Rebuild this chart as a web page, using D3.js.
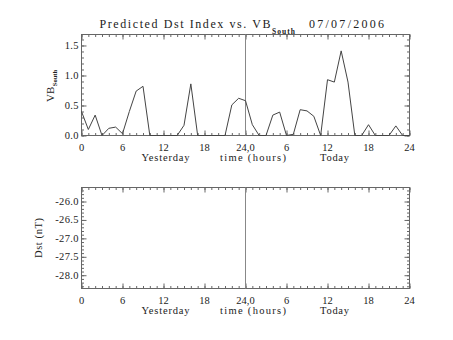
<!DOCTYPE html>
<html>
<head>
<meta charset="utf-8">
<script src="https://cdn.jsdelivr.net/npm/d3@7"></script>
<style>
  html, body { margin: 0; padding: 0; background: #fff; }
  svg { display: block; }
  text { fill: #222; font-family: "Liberation Serif", "DejaVu Serif", serif; }
</style>
</head>
<body>
<svg id="chart" width="453" height="340"></svg>
<script>
// Hourly VB-south values, yesterday 00h through today 24h
const hours = d3.range(0, 49);
const vbSouth = [
  0.40, 0.10, 0.34, 0.00, 0.12, 0.14, 0.03, 0.40, 0.74, 0.82,
  0.00, 0.00, 0.00, 0.00, 0.00, 0.17, 0.86, 0.00, 0.00, 0.00,
  0.00, 0.00, 0.51, 0.62, 0.58, 0.18, 0.00, 0.00, 0.34, 0.39,
  0.00, 0.02, 0.43, 0.41, 0.32, 0.00, 0.93, 0.89, 1.41, 0.89,
  0.00, 0.00, 0.18, 0.00, 0.00, 0.00, 0.16, 0.00, 0.00
];
// Predicted Dst has no values for this window
const dstValues = [];

const xTickValues = [0, 6, 12, 18, 24, 30, 36, 42, 48];
const xTickLabels = ["0", "6", "12", "18", "24,0", "6", "12", "18", "24"];
const vbTickValues = [0, 0.5, 1.0, 1.5];
const vbTickLabels = ["0.0", "0.5", "1.0", "1.5"];
const dstTickValues = [-26.0, -26.5, -27.0, -27.5, -28.0];
const dstTickLabels = ["-26.0", "-26.5", "-27.0", "-27.5", "-28.0"];

const svg = d3.select("#chart");
const frameColor = "#666";

const x = d3.scaleLinear().domain([0, 48]).range([81.5, 409.5]);

function panel(y0, y1, domain, yMajor, yLabels, yMinorStep) {
  const y = d3.scaleLinear().domain(domain).range([y1, y0]);
  const g = svg.append("g");
  const minorX = d3.range(0, 49, 1);
  const minorY = d3.range(Math.ceil(domain[0] / yMinorStep) * yMinorStep, domain[1], yMinorStep);

  // inward-pointing ticks on all four sides
  const axes = [
    [d3.axisBottom(x).tickValues(minorX).tickSize(-2.5), `translate(0,${y1})`],
    [d3.axisBottom(x).tickValues(xTickValues).tickSize(-5), `translate(0,${y1})`],
    [d3.axisTop(x).tickValues(minorX).tickSize(-2.5), `translate(0,${y0})`],
    [d3.axisTop(x).tickValues(xTickValues).tickSize(-5), `translate(0,${y0})`],
    [d3.axisLeft(y).tickValues(minorY).tickSize(-2.5), `translate(81.5,0)`],
    [d3.axisLeft(y).tickValues(yMajor).tickSize(-5), `translate(81.5,0)`],
    [d3.axisRight(y).tickValues(minorY).tickSize(-2.5), `translate(409.5,0)`],
    [d3.axisRight(y).tickValues(yMajor).tickSize(-5), `translate(409.5,0)`]
  ];
  axes.forEach(([ax, tr]) => {
    const a = g.append("g").attr("transform", tr).call(ax.tickFormat(""));
    a.select(".domain").remove();
    a.selectAll("line").attr("stroke", frameColor);
  });

  g.append("rect")
    .attr("x", 81.5).attr("y", y0)
    .attr("width", 328).attr("height", y1 - y0)
    .attr("fill", "none").attr("stroke", frameColor).attr("stroke-width", 1);

  // day boundary
  g.append("line")
    .attr("x1", x(24)).attr("x2", x(24))
    .attr("y1", y0).attr("y2", y1)
    .attr("stroke", "#888").attr("stroke-width", 1);

  // x tick labels
  g.selectAll(".xl").data(xTickValues).enter().append("text")
    .attr("x", d => x(d)).attr("y", y1 + 15)
    .attr("text-anchor", "middle").attr("font-size", 10.5)
    .text((d, i) => xTickLabels[i]);

  // y tick labels
  g.selectAll(".yl").data(yMajor).enter().append("text")
    .attr("x", 79).attr("y", d => y(d) + 3.5)
    .attr("text-anchor", "end").attr("font-size", 10.5)
    .attr("letter-spacing", 0.4)
    .text((d, i) => yLabels[i]);

  // x axis titles
  const ty = y1 + 25;
  g.append("text").attr("x", 141.5).attr("y", ty).attr("font-size", 10.5)
    .attr("textLength", 48).attr("lengthAdjust", "spacing").text("Yesterday");
  g.append("text").attr("x", 220).attr("y", ty).attr("font-size", 10.5)
    .attr("textLength", 66).attr("lengthAdjust", "spacing").text("time (hours)");
  g.append("text").attr("x", 320).attr("y", ty).attr("font-size", 10.5)
    .attr("textLength", 29).attr("lengthAdjust", "spacing").text("Today");

  return { g, y };
}

// Title
svg.append("text").attr("x", 99.5).attr("y", 28).attr("font-size", 12)
  .attr("textLength", 171).attr("lengthAdjust", "spacing")
  .text("Predicted Dst Index vs. VB");
svg.append("text").attr("x", 272).attr("y", 33.5).attr("font-size", 7.5)
  .attr("font-weight", "bold")
  .attr("textLength", 23).attr("lengthAdjust", "spacing").text("South");
svg.append("text").attr("x", 309).attr("y", 28).attr("font-size", 12)
  .attr("textLength", 75).attr("lengthAdjust", "spacing").text("07/07/2006");

// Upper panel: VB south
const vbPanel = panel(34.5, 135.5, [0, 1.683], vbTickValues, vbTickLabels, 0.1);
vbPanel.g.append("path")
  .datum(hours.map((h, i) => [h, vbSouth[i]]))
  .attr("fill", "none").attr("stroke", "#444").attr("stroke-width", 1)
  .attr("stroke-linejoin", "miter")
  .attr("d", d3.line().x(d => x(d[0])).y(d => vbPanel.y(d[1])));

const vbTitle = svg.append("text")
  .attr("transform", "translate(54,102) rotate(-90)")
  .attr("font-size", 11);
vbTitle.append("tspan").text("VB");
vbTitle.append("tspan").attr("font-size", 6.5).attr("font-weight", "bold")
  .attr("dx", 0.5).attr("dy", 3).text("South");

// Lower panel: predicted Dst
const dstPanel = panel(187.5, 288.5, [-28.36, -25.62], dstTickValues, dstTickLabels, 0.1);
if (dstValues.length) {
  dstPanel.g.append("path")
    .datum(dstValues)
    .attr("fill", "none").attr("stroke", "#444")
    .attr("d", d3.line().x((d, i) => x(hours[i])).y(d => dstPanel.y(d)));
}
svg.append("text")
  .attr("transform", "translate(41.5,258) rotate(-90)")
  .attr("font-size", 10.5)
  .attr("textLength", 40).attr("lengthAdjust", "spacing")
  .text("Dst (nT)");
</script>
</body>
</html>
